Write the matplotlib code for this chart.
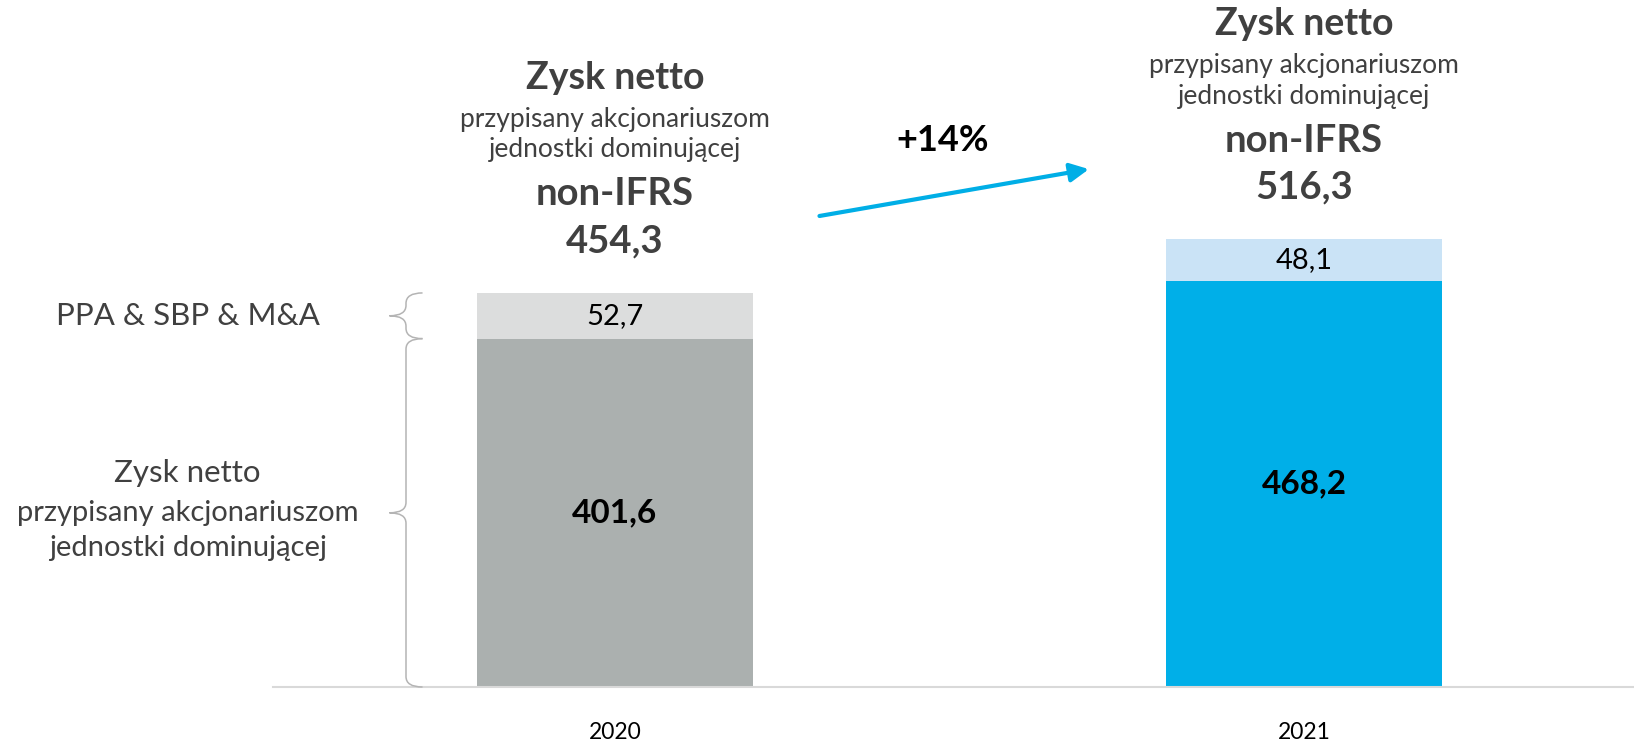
import numpy as np
import matplotlib
matplotlib.use("Agg")
import matplotlib.pyplot as plt
from matplotlib.path import Path
from matplotlib.patches import PathPatch

plt.rcParams['font.family'] = ['Lato', 'DejaVu Sans']

# dane
years = ['2020', '2021']
zysk_netto = [401.6, 468.2]
korekty = [52.7, 48.1]
non_ifrs = [454.3, 516.3]
kolory_dol = ['#abb0af', '#00afe8']
kolory_gora = ['#dcdddd', '#cae3f6']
zmiana = '+14%'

szary = '#404040'

fig = plt.figure(figsize=(16.34, 7.43), dpi=100)
ax = fig.add_axes([273 / 1634, 56 / 743, 1 - 273 / 1634, 1 - 56 / 743])

x = np.arange(len(years))
ax.bar(x, zysk_netto, width=0.4, color=kolory_dol, zorder=2)
ax.bar(x, korekty, width=0.4, bottom=zysk_netto, color=kolory_gora, zorder=2)

ax.set_xlim(-0.496, 1.479)
ax.set_ylim(0, 792)

for s in ['top', 'right', 'left']:
    ax.spines[s].set_visible(False)
ax.spines['bottom'].set_color('#d9d9d9')
ax.spines['bottom'].set_linewidth(1.5)
ax.set_yticks([])
ax.set_xticks(x)
ax.set_xticklabels(years, fontsize=16.5, color='black')
ax.tick_params(axis='x', length=0, pad=25)

# etykiety wartosci w slupkach
for i in x:
    ax.text(i, zysk_netto[i] / 2, f"{zysk_netto[i]:.1f}".replace('.', ','),
            ha='center', va='center', fontsize=24, fontweight='bold', color='black')
    ax.text(i, zysk_netto[i] + korekty[i] / 2, f"{korekty[i]:.1f}".replace('.', ','),
            ha='center', va='center', fontsize=21, color='black')

# opisy nad slupkami
for i in x:
    top = zysk_netto[i] + korekty[i]
    linie = [("Zysk netto", 155, 27, 'bold'),
             ("przypisany akcjonariuszom", 125, 19, 'normal'),
             ("jednostki dominującej", 103, 19, 'normal'),
             ("non-IFRS", 71, 27.5, 'bold'),
             (f"{non_ifrs[i]:.1f}".replace('.', ','), 37, 27.5, 'bold')]
    for txt, off, fs, fw in linie:
        ax.annotate(txt, xy=(i, top), xytext=(0, off), textcoords='offset points',
                    ha='center', va='center', fontsize=fs, fontweight=fw,
                    color=szary, annotation_clip=False)

# strzalka i zmiana procentowa
ax.annotate('', xy=(0.688, 597), xytext=(0.297, 543),
            arrowprops=dict(arrowstyle='-|>', color='#00aee6', lw=3,
                            mutation_scale=28, shrinkA=0, shrinkB=0))
ax.text(0.476, 630, zmiana, ha='center', va='center', fontsize=26,
        fontweight='bold', color='black')


# klamry po lewej
def klamra(y0, y1, x_tip=-0.327, x_mid=-0.303, x_end=-0.279, r=12):
    ym = (y0 + y1) / 2
    verts = [(x_end, y0), (x_mid, y0), (x_mid, y0 + r),
             (x_mid, ym - r),
             (x_mid, ym), (x_tip, ym),
             (x_mid, ym), (x_mid, ym + r),
             (x_mid, y1 - r),
             (x_mid, y1), (x_end, y1)]
    codes = [Path.MOVETO, Path.CURVE3, Path.CURVE3,
             Path.LINETO,
             Path.CURVE3, Path.CURVE3,
             Path.CURVE3, Path.CURVE3,
             Path.LINETO,
             Path.CURVE3, Path.CURVE3]
    ax.add_patch(PathPatch(Path(verts, codes), fill=False, edgecolor='#b4b4b4',
                           lw=1.1, clip_on=False, zorder=3))


klamra(zysk_netto[0], zysk_netto[0] + korekty[0])
klamra(0, zysk_netto[0])

ax.text(-0.620, zysk_netto[0] + korekty[0] / 2, "PPA & SBP & M&A", ha='center',
        va='center', fontsize=22.5, color=szary, clip_on=False)
ax.annotate("Zysk netto", xy=(-0.620, zysk_netto[0] / 2), xytext=(0, 29),
            textcoords='offset points', ha='center', va='center', fontsize=22.5,
            color=szary, annotation_clip=False)
ax.annotate("przypisany akcjonariuszom", xy=(-0.620, zysk_netto[0] / 2), xytext=(0, 0),
            textcoords='offset points', ha='center', va='center', fontsize=21,
            color=szary, annotation_clip=False)
ax.annotate("jednostki dominującej", xy=(-0.620, zysk_netto[0] / 2), xytext=(0, -25),
            textcoords='offset points', ha='center', va='center', fontsize=21,
            color=szary, annotation_clip=False)

fig.savefig('out.png', dpi=100)
